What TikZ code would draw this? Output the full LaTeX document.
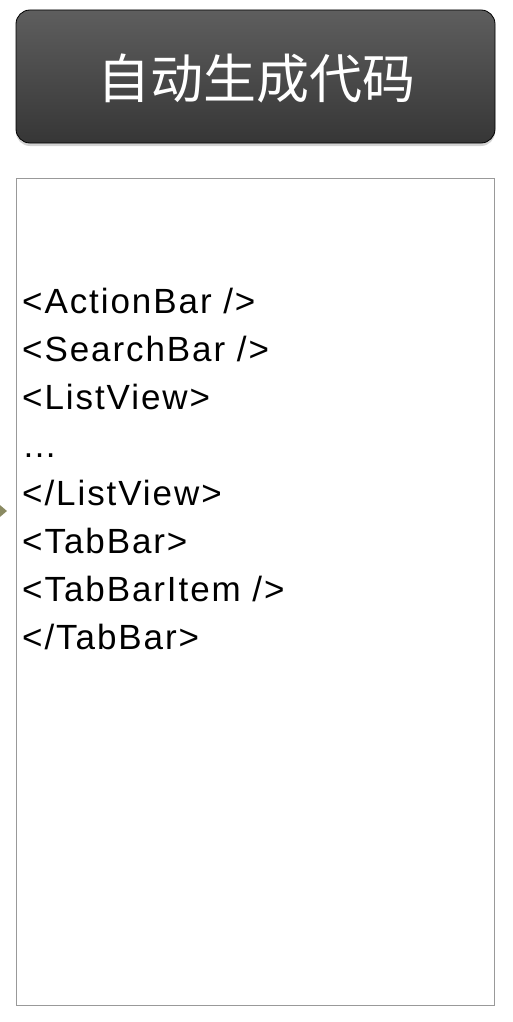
\documentclass[tikz,border=0pt]{standalone}
\usepackage{fontspec}
\setmainfont{Liberation Sans}
\newfontfamily\cjk{Noto Sans CJK SC}
\newfontfamily\codefont[LetterSpace=5.5]{Liberation Sans}
\usetikzlibrary{shadows,arrows.meta}

\definecolor{titletop}{HTML}{5E5E5E}
\definecolor{titlebot}{HTML}{363636}
\definecolor{tipolive}{HTML}{8A8A62}

\tikzset{
  codeline/.style={anchor=base west, inner sep=0pt,
    font=\codefont\fontsize{35}{35}\selectfont},
}

\begin{document}
\begin{tikzpicture}[x=1pt,y=-1pt]
\useasboundingbox (0,0) rectangle (512,1022);

%title button
\draw[black, line width=0.8pt, rounded corners=14pt, top color=titletop, bottom color=titlebot,
  drop shadow={opacity=0.35, shadow xshift=0pt, shadow yshift=-3pt}]
  (16,10) rectangle +(479,133);
\node[text=white, font=\cjk\fontsize{53}{53}\selectfont] (title) at (256,78) {自动生成代码};

%code panel
\draw[black!40, line width=0.8pt] (16,178) rectangle +(478,827);

\node[codeline] (l1) at (22,313) {<ActionBar />};
\node[codeline] (l2) at (22,361) {<SearchBar />};
\node[codeline] (l3) at (22,409) {<ListView>};
\node[codeline] (l4) at (22,457) {…};
\node[codeline] (l5) at (22,505) {</ListView>};
\node[codeline] (l6) at (22,553) {<TabBar>};
\node[codeline] (l7) at (22,601) {<TabBarItem />};
\node[codeline] (l8) at (22,649) {</TabBar>};

%arrow coming in from the left
\coordinate (src) at (-40,511);
\coordinate (tip) at (7,511);
\draw[tipolive, line width=2pt, -{Triangle[length=8pt,width=13pt]}] (src) -- (tip);

\end{tikzpicture}
\end{document}
